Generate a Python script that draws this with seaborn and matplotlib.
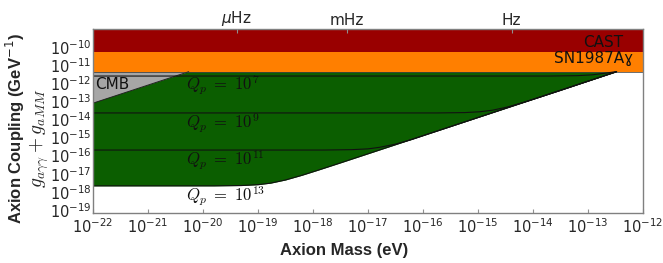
### Axion coupling limits vs. axion mass (log-log exclusion plot)
import numpy as np
import pandas as pd
import matplotlib
matplotlib.use("Agg")
import matplotlib.pyplot as plt
import seaborn as sns

# --- values (log10 of eV and GeV^-1) ---
cast_limit = -10.27        # CAST bound on g
sn_limit = -11.36          # SN1987A gamma bound on g

# CMB line (log m, log g), gray region above it
cmb_m = [-22.0, -20.26]
cmb_g = [-13.10, -11.36]

# Q_p curves: plateau then joining the diagonal
q7_m = [-22.0, -13.7, -13.2, -12.93, -12.7, -12.5]
q7_g = [-11.60, -11.60, -11.58, -11.535, -11.45, -11.36]

q9_m = [-22.0, -15.74, -15.24, -14.97, -14.74, -14.47, -14.17, -13.87, -13.5, -12.48]
q9_g = [-13.64, -13.64, -13.62, -13.575, -13.49, -13.315, -13.055, -12.765, -12.40, -11.36]

q11_m = [-22.0, -17.8, -17.3, -17.0, -16.79, -16.5, -16.2, -15.9, -15.5, -12.48]
q11_g = [-15.69, -15.69, -15.67, -15.625, -15.54, -15.365, -15.105, -14.80, -14.40, -11.36]

q13_m = [-22.0, -19.8, -19.3, -19.0, -18.77, -18.5, -18.2, -17.9, -17.5, -12.48]
q13_g = [-17.67, -17.67, -17.652, -17.605, -17.52, -17.345, -17.085, -16.796, -16.40, -11.36]

q_labels = [r"$Q_p\ =\ 10^{7}$", r"$Q_p\ =\ 10^{9}$", r"$Q_p\ =\ 10^{11}$", r"$Q_p\ =\ 10^{13}$"]
q_label_y = [0.696, 0.487, 0.288, 0.089]

freq_ticks = [-19.39, -17.39, -14.39]   # where the top labels sit (log eV)
freq_labels = [r"$\mu$Hz", "mHz", "Hz"]

xlim = (-22, -12)
ylim = (-19.17, -9.0)

sns.set_style("white")
plt.rcParams["font.family"] = ["DejaVu Sans"]

fig = plt.figure(figsize=(6.63, 2.63), dpi=100)
ax = fig.add_axes([93 / 663, 50 / 263, 550 / 663, 184 / 263])

lin = lambda a: 10 ** np.asarray(a, dtype=float)

red = "#990000"
orange = "#FF7F00"
green = "#0B5E00"
gray = "#A6A6A6"

# bands
ax.axhspan(lin(cast_limit), lin(ylim[1]), color=red, lw=0)
ax.axhspan(lin(sn_limit), lin(cast_limit), color=orange, lw=0)

# green region between Q13 curve and SN bound
ax.fill_between(lin(q13_m), lin(q13_g), lin(sn_limit), color=green, lw=0)

# CMB triangle
ax.fill(lin([cmb_m[0], cmb_m[0], cmb_m[1]]), lin([cmb_g[0], sn_limit, sn_limit]),
        color=gray, lw=0)
ax.plot(lin(cmb_m), lin(cmb_g), color="#222222", lw=0.7)
ax.axhline(lin(sn_limit), color="#333333", lw=0.5)

# Q_p curves
curves = [(q7_m, q7_g), (q9_m, q9_g), (q11_m, q11_g), (q13_m, q13_g)]
for m, g in curves:
    df = pd.DataFrame({"m": lin(m), "g": lin(g)})
    sns.lineplot(data=df, x="m", y="g", ax=ax, color="#111111", lw=0.8,
                 sort=False, estimator=None)

ax.set_xscale("log")
ax.set_yscale("log")
ax.set_xlim(lin(xlim[0]), lin(xlim[1]))
ax.set_ylim(lin(ylim[0]), lin(ylim[1]))
ax.set_xticks(lin(np.arange(-22, -11)))
ax.set_yticks(lin(np.arange(-19, -9)))

# labels in the plot
for lab, yy in zip(q_labels, q_label_y):
    ax.text(0.169, yy, lab, transform=ax.transAxes, fontsize=12, va="center",
            ha="left", color="#111111", math_fontfamily="cm")
ax.text(0.9636, 0.929, "CAST", transform=ax.transAxes, fontsize=11,
        ha="right", va="center", color="#111111")
ax.text(0.982, 0.837, "SN1987A\u0263", transform=ax.transAxes, fontsize=11,
        ha="right", va="center", color="#111111")
ax.text(0.004, 0.696, "CMB", transform=ax.transAxes, fontsize=11,
        ha="left", va="center", color="#111111")

# axes styling
for s in ax.spines.values():
    s.set_color("#808080")
    s.set_linewidth(1.0)
ax.tick_params(axis="both", which="both", direction="in", color="#909090",
               labelsize=10.5)
ax.tick_params(axis="both", which="major", length=3)
ax.tick_params(axis="both", which="minor", length=2)
ax.tick_params(axis="x", pad=3)
ax.tick_params(axis="y", pad=1)

ax.set_xlabel("")
ax.set_ylabel("")
fig.text(344 / 663, 1 - 250 / 263, "Axion Mass (eV)", fontsize=12,
         fontweight="bold", family="Liberation Sans", ha="center", va="center")
fig.text(15 / 663, 1 - 129 / 263, "Axion Coupling (GeV$^{-1}$)", rotation=90,
         fontsize=12, fontweight="bold", family="Liberation Sans",
         ha="center", va="center")
fig.text(39 / 663, 1 - 138 / 263, r"$g_{a\gamma\gamma} + g_{aMM}$", rotation=90,
         fontsize=14, ha="center", va="center", math_fontfamily="cm")

# top frequency axis
top = ax.twiny()
top.set_xscale("log")
top.set_xlim(ax.get_xlim())
top.set_xticks(lin(freq_ticks))
top.set_xticklabels(freq_labels)
top.xaxis.set_minor_locator(matplotlib.ticker.NullLocator())
top.tick_params(axis="x", direction="in", color="#909090", length=3,
                labelsize=11, pad=1)
for s in top.spines.values():
    s.set_visible(False)

fig.savefig("out.png", dpi=100)
